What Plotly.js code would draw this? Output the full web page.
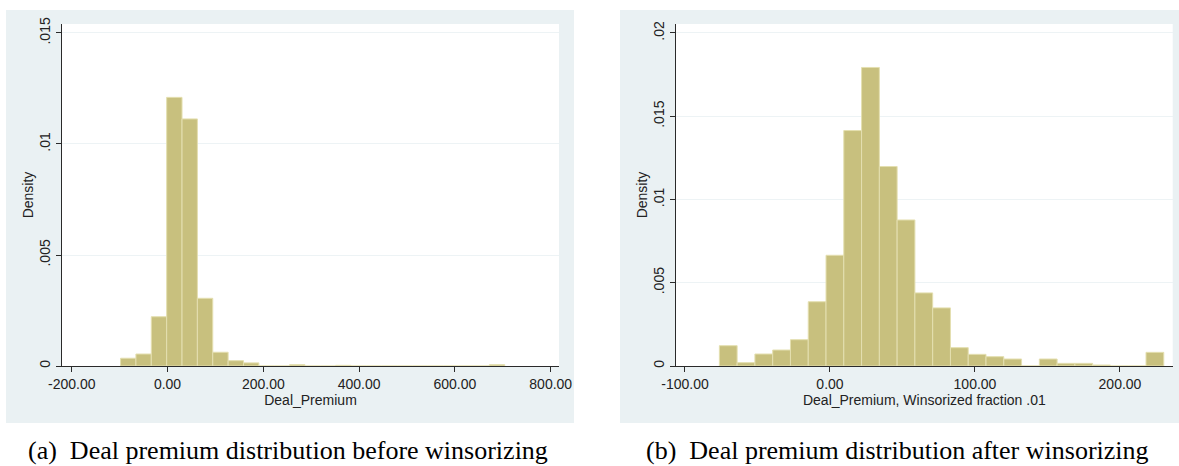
<!DOCTYPE html>
<html>
<head>
<meta charset="utf-8">
<script src="https://cdn.plot.ly/plotly-3.0.1.min.js"></script>
<style>html,body{margin:0;padding:0;background:#fff;}#chart{width:1179px;height:466px;}</style>
</head>
<body>
<div id="chart"></div>
<script>
// ---- Data: (a) before winsorizing ----
const leftBinLow = [-98.0, -65.92, -33.84, -1.76, 30.32, 62.40, 94.48, 126.56, 158.64, 190.72,
  222.80, 254.88, 286.96, 319.04, 351.12, 383.20, 415.28, 447.36, 479.44, 511.52,
  543.60, 575.68, 607.76, 639.84, 671.92];
const leftBinWidth = 32.08;
const leftDensity = [0.00035, 0.00054, 0.00222, 0.0121, 0.01113, 0.00305, 0.00062, 0.00024, 0.00014, 0,
  0, 0.00006, 0, 0, 0.00003, 0, 0, 0, 0, 0,
  0, 0, 0, 0, 0.00006];
const leftXTickVals = [-200, 0, 200, 400, 600, 800];
const leftXTickText = ["-200.00", "0.00", "200.00", "400.00", "600.00", "800.00"];
const leftYTickVals = [0, 0.005, 0.01, 0.015];
const leftYTickText = ["0", ".005", ".01", ".015"];

// ---- Data: (b) after winsorizing ----
const rightBinLow = [-76.3, -64.04, -51.78, -39.52, -27.26, -15.0, -2.74, 9.52, 21.78, 34.04,
  46.3, 58.56, 70.82, 83.08, 95.34, 107.6, 119.86, 132.12, 144.38, 156.64,
  168.9, 181.16, 193.42, 205.68, 217.94];
const rightBinWidth = 12.26;
const rightDensity = [0.00122, 0.0002, 0.00072, 0.00096, 0.00158, 0.00386, 0.00665, 0.01414, 0.01793, 0.01198,
  0.00877, 0.00439, 0.00349, 0.0011, 0.0007, 0.00056, 0.00042, 0, 0.00042, 0.00016,
  0.00016, 0.00006, 0, 0, 0.00082];
const rightXTickVals = [-100, 0, 100, 200];
const rightXTickText = ["-100.00", "0.00", "100.00", "200.00"];
const rightYTickVals = [0, 0.005, 0.01, 0.015, 0.02];
const rightYTickText = ["0", ".005", ".01", ".015", ".02"];

const captionA = "(a)  Deal premium distribution before winsorizing";
const captionB = "(b)  Deal premium distribution after winsorizing";
const xTitleA = "Deal_Premium";
const xTitleB = "Deal_Premium, Winsorized fraction .01";
const yTitle = "Density";

// ---- Styling ----
const W = 1179, H = 466;
const px = v => v / W;
const py = v => 1 - v / H;
const barColor = "#c8c07e";
const barLine = "#e4dfb0";
const panelBg = "#eaf1f3";
const gridCol = "#edf3f5";
const axCol = "#2a2a2a";
const sans = "Liberation Sans, Arial, Helvetica, sans-serif";

const traces = [
  { type: "bar", x: leftBinLow, y: leftDensity, width: leftBinWidth, offset: 0,
    marker: { color: barColor, line: { color: barLine, width: 1 } },
    xaxis: "x", yaxis: "y", hoverinfo: "x+y" },
  { type: "bar", x: rightBinLow, y: rightDensity, width: rightBinWidth, offset: 0,
    marker: { color: barColor, line: { color: barLine, width: 1 } },
    xaxis: "x2", yaxis: "y2", hoverinfo: "x+y" }
];

function xAxis(domain, range, vals, text, title) {
  return {
    domain: domain, range: range, tickmode: "array", tickvals: vals, ticktext: text,
    showgrid: false, zeroline: false, showline: true, linecolor: axCol, linewidth: 1,
    ticks: "outside", ticklen: 5, tickcolor: axCol, tickwidth: 1,
    tickfont: { family: sans, size: 14, color: "#222" },
    title: { text: title, font: { family: sans, size: 14, color: "#222" }, standoff: 0 },
    automargin: false, fixedrange: true
  };
}
function yAxis(domain, range, vals, text, anchor) {
  return {
    domain: domain, range: range, tickmode: "array", tickvals: vals, ticktext: text,
    showgrid: true, gridcolor: gridCol, gridwidth: 1, zeroline: false,
    showline: true, linecolor: axCol, linewidth: 1,
    ticks: "outside", ticklen: 5, tickcolor: axCol, tickwidth: 1, tickangle: -90,
    tickfont: { family: sans, size: 14, color: "#222" },
    title: { text: yTitle, font: { family: sans, size: 14, color: "#222" }, standoff: 0 },
    automargin: false, fixedrange: true, anchor: anchor
  };
}

const layout = {
  width: W, height: H,
  margin: { l: 0, r: 0, t: 0, b: 0, pad: 0 },
  paper_bgcolor: "#ffffff", plot_bgcolor: "#ffffff",
  showlegend: false, bargap: 0,
  xaxis: xAxis([px(62), px(559)], [-220.25, 817.3], leftXTickVals, leftXTickText, xTitleA),
  yaxis: yAxis([1 - 366 / H, 1 - 24 / H], [0, 0.015405], leftYTickVals, leftYTickText, "x"),
  xaxis2: Object.assign(xAxis([px(676), px(1172.7)], [-106.2, 236.35], rightXTickVals, rightXTickText, xTitleB), { anchor: "y2" }),
  yaxis2: yAxis([1 - 366 / H, 1 - 24 / H], [0, 0.02054], rightYTickVals, rightYTickText, "x2"),
  shapes: [
    { type: "rect", xref: "paper", yref: "paper", x0: px(6), x1: px(574), y0: py(423), y1: py(10),
      fillcolor: panelBg, line: { width: 0 }, layer: "below" },
    { type: "rect", xref: "paper", yref: "paper", x0: px(620), x1: px(1179), y0: py(423), y1: py(10),
      fillcolor: panelBg, line: { width: 0 }, layer: "below" },
    { type: "rect", xref: "paper", yref: "paper", x0: px(62), x1: px(559), y0: py(366), y1: py(24),
      fillcolor: "#ffffff", line: { width: 0 }, layer: "below" },
    { type: "rect", xref: "paper", yref: "paper", x0: px(676), x1: px(1172.7), y0: py(366), y1: py(24),
      fillcolor: "#ffffff", line: { width: 0 }, layer: "below" }
  ],
  annotations: [
    { text: captionA, xref: "paper", yref: "paper", x: px(288), y: py(450), xanchor: "center", yanchor: "middle",
      showarrow: false, font: { family: "Liberation Serif, Times New Roman, serif", size: 26, color: "#000" } },
    { text: captionB, xref: "paper", yref: "paper", x: px(897), y: py(450), xanchor: "center", yanchor: "middle",
      showarrow: false, font: { family: "Liberation Serif, Times New Roman, serif", size: 26, color: "#000" } }
  ]
};

Plotly.newPlot("chart", traces, layout, { staticPlot: true, displayModeBar: false });
</script>
</body>
</html>
